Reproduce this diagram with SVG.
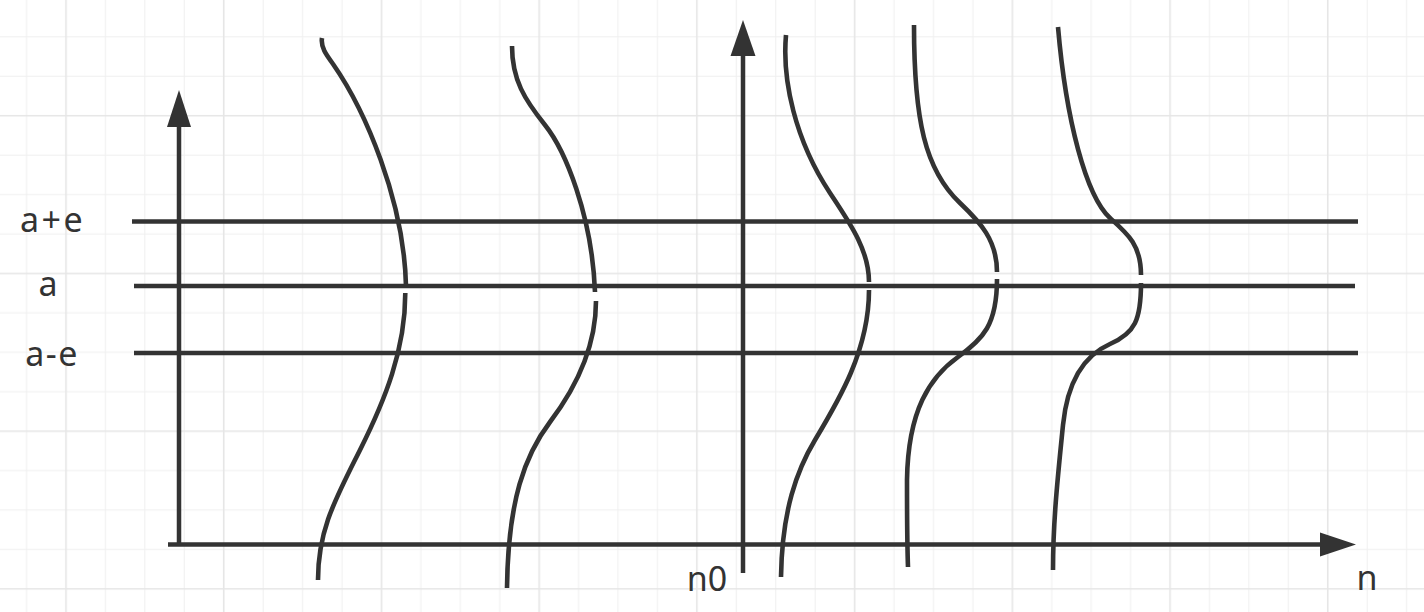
<svg xmlns="http://www.w3.org/2000/svg" width="1424" height="612" viewBox="0 0 1424 612">
<style>
.ln{stroke:#333333;stroke-width:4.5;fill:none;stroke-linecap:butt}
.cv{stroke:#333333;stroke-width:4.6;fill:none;stroke-linecap:butt;stroke-linejoin:round}
.head{fill:#333333}
.lbl{font-family:"Noto Sans","Open Sans","DejaVu Sans",sans-serif;font-size:34px;fill:#333333;text-anchor:middle}
.gmin{stroke:#efefef;stroke-width:1}
.gmaj{stroke:#e6e6e6;stroke-width:1.6}
</style>
<defs>
<pattern id="grid" patternUnits="userSpaceOnUse" x="46.285" y="95.985" width="157.72" height="157.72">
<line class="gmin" x1="59.145" y1="0" x2="59.145" y2="157.72"/>
<line class="gmin" x1="98.575" y1="0" x2="98.575" y2="157.72"/>
<line class="gmin" x1="138.005" y1="0" x2="138.005" y2="157.72"/>
<line class="gmin" x1="0" y1="59.145" x2="157.72" y2="59.145"/>
<line class="gmin" x1="0" y1="98.575" x2="157.72" y2="98.575"/>
<line class="gmin" x1="0" y1="138.005" x2="157.72" y2="138.005"/>
<line class="gmaj" x1="19.715" y1="0" x2="19.715" y2="157.72"/>
<line class="gmaj" x1="0" y1="19.715" x2="157.72" y2="19.715"/>
</pattern>
</defs>
<rect id="background" x="0" y="0" width="1424" height="612" fill="#ffffff"/>
<rect id="grid-layer" x="0" y="0" width="1424" height="612" fill="url(#grid)"/>

<g id="connectors">
<line class="ln" x1="179" y1="545" x2="179" y2="124"/>
<polygon class="head" points="179,90 191,127 167,127"/>
<line class="ln" x1="743" y1="573" x2="743" y2="53"/>
<polygon class="head" points="743,20 755.5,56 730.5,56"/>
<line class="ln" x1="168" y1="544.5" x2="1323" y2="544.5"/>
<polygon class="head" points="1356,544.5 1320,532.5 1320,556.5"/>
</g>

<g id="level-lines">
<line id="line-a-plus-e" class="ln" x1="132" y1="221.5" x2="1358" y2="221.5"/>
<line id="line-a" class="ln" x1="134" y1="286" x2="1355" y2="286"/>
<line id="line-a-minus-e" class="ln" x1="134" y1="353" x2="1358" y2="353"/>
</g>

<g id="curve-1">
<path class="cv" d="M322,38 C320.5,47 326,54.5 333,64 C365,110 404,200 406,286"/>
<path class="cv" d="M405.3,293 C405.3,350 385,400 360,450 C335,500 318,530 318,580"/>
</g>

<g id="curve-2">
<path class="cv" d="M512,46 C512,80 525,100 545,125 C565,150 592,215 595,292"/>
<path class="cv" d="M596,301 C596,345 578,385 550,422 C525,455 508,500 507,588"/>
</g>

<g id="curve-3">
<path class="cv" d="M786,35 C782,80 795,140 830,193 C850,223.3 869,250 869,282"/>
<path class="cv" d="M869,290 C869,350 839,400 815,440 C797,470 782,510 781,577"/>
</g>

<g id="curve-4">
<path class="cv" d="M914,25 C914,120 925,170 960,203 C980,222 997,240 997,272"/>
<path class="cv" d="M997,279 C997,325 983,339 958,357 C930,377 908,410 907,480 C907,510 907,540 908,567"/>
</g>

<g id="curve-5">
<path class="cv" d="M1058,27 C1066,120 1086,196 1110,218 C1128,234 1141,245 1141,275"/>
<path class="cv" d="M1141,283 C1141,320 1135,333 1110,344 C1088,353.7 1068,375 1063,425 C1058,475 1053,520 1053,570"/>
</g>

<g id="labels">
<text id="label-a-plus-e" class="lbl" x="52.5" y="232" style="letter-spacing:2.5px">a+e</text>
<text id="label-a" class="lbl" x="48" y="296">a</text>
<text id="label-a-minus-e" class="lbl" x="52" y="366" style="letter-spacing:1.5px">a-e</text>
<text id="label-n0" class="lbl" x="707" y="591">n0</text>
<text id="label-n" class="lbl" x="1367" y="590">n</text>
</g>
</svg>
